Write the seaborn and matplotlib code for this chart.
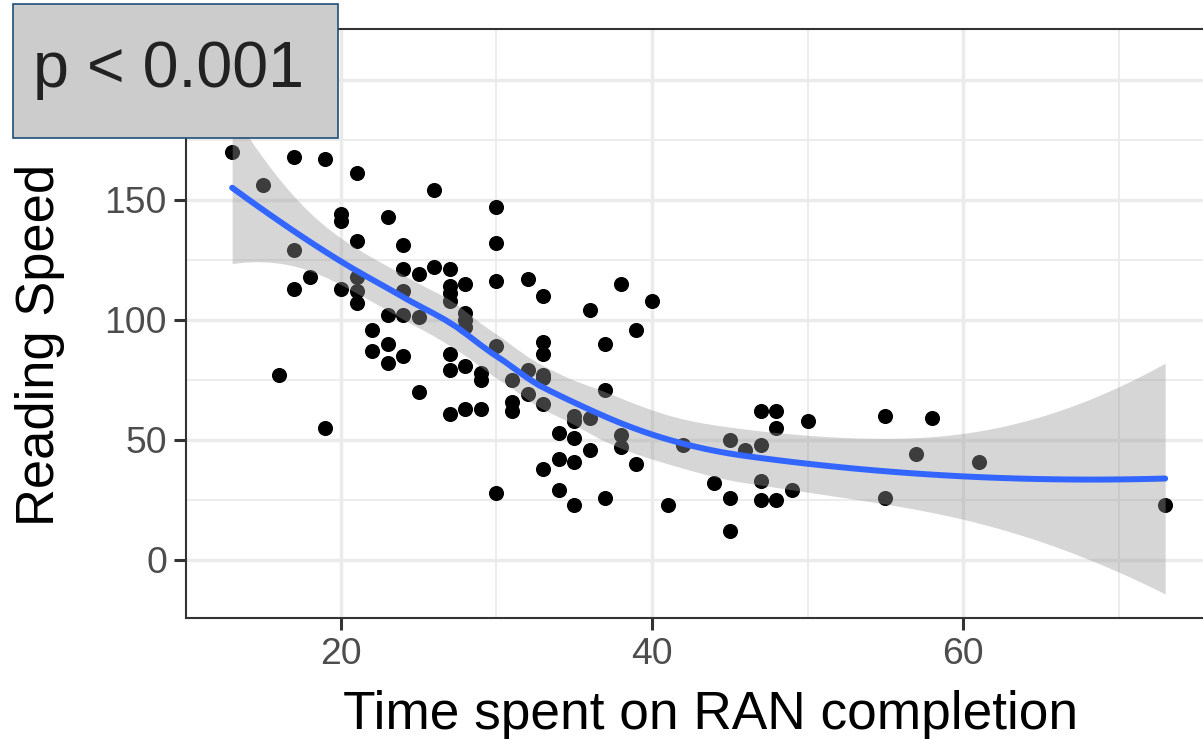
import numpy as np
import pandas as pd
import matplotlib
matplotlib.use("Agg")
import matplotlib.pyplot as plt
from matplotlib.patches import Rectangle
import seaborn as sns

# --- data ---
# the (18, 210) point sits under the p-value box; the y-range of the panel implies it
ran_time = [13, 15, 16, 17, 17, 17, 18, 18, 19, 19,
            20, 20, 20, 21, 21, 21, 21, 21, 22, 22,
            23, 23, 23, 23, 24, 24, 24, 24, 24, 25, 25, 25,
            26, 26, 27, 27, 27, 27, 27, 27, 27,
            28, 28, 28, 28, 28, 28, 29, 29, 29,
            30, 30, 30, 30, 30, 31, 31, 31, 32, 32, 32,
            33, 33, 33, 33, 33, 33, 33, 34, 34, 34,
            35, 35, 35, 35, 35, 36, 36, 36, 37, 37, 37,
            38, 38, 38, 39, 39, 40, 41, 42, 44, 45, 45, 45, 46,
            47, 47, 47, 47, 48, 48, 48, 49, 50, 55, 55, 57, 58, 61, 73]
reading_speed = [170, 156, 77, 168, 129, 113, 210, 118, 167, 55,
                 144, 141, 113, 161, 133, 118, 112, 107, 96, 87,
                 143, 102, 90, 82, 131, 121, 112, 102, 85, 119, 101, 70,
                 154, 122, 121, 114, 111, 108, 86, 79, 61,
                 115, 103, 100, 97, 81, 63, 78, 75, 63,
                 147, 132, 116, 89, 28, 75, 66, 62, 117, 79, 69,
                 110, 91, 86, 77, 76, 65, 38, 53, 42, 29,
                 60, 58, 51, 41, 23, 104, 59, 46, 90, 71, 26,
                 115, 52, 47, 96, 40, 108, 23, 48, 32, 50, 26, 12, 46,
                 62, 48, 33, 25, 62, 55, 25, 29, 58, 60, 26, 44, 59, 41, 23]
x_breaks = [20, 40, 60]
y_breaks = [0, 50, 100, 150, 200]
p_label = "p < 0.001"

df = pd.DataFrame({"time": ran_time, "speed": reading_speed})


# --- loess (span 0.75, degree 2, kd-tree + hermite interpolation) ---
def local_rows(x, x0, q):
    # operator rows for value and slope of the local quadratic at x0
    n = len(x)
    d = np.abs(x - x0)
    h = np.sort(d)[q - 1]
    w = np.clip(1 - (d / h) ** 3, 0, None) ** 3
    X = np.column_stack([np.ones(n), x - x0, (x - x0) ** 2])
    XtW = X.T * w
    sol = np.linalg.solve(XtW @ X, XtW)
    return sol[0], sol[1]


def kd_vertices(x, fc):
    xs = np.sort(x)
    mu = 0.005 * (xs[-1] - xs[0])
    verts = {xs[0] - mu, xs[-1] + mu}
    stack = [(0, len(xs) - 1, xs[0] - mu, xs[-1] + mu)]
    while stack:
        l, u, lo, hi = stack.pop()
        if u - l + 1 <= fc:
            continue
        m = (l + u) // 2
        offset, found = 0, None
        while l <= m + offset < u:
            if xs[m + offset] != xs[m + offset + 1]:
                found = m + offset
                break
            offset = -offset
            if offset >= 0:
                offset += 1
        if found is None:
            continue
        xi = xs[found]
        if xi == lo or xi == hi:
            continue
        verts.add(xi)
        stack.append((l, found, lo, xi))
        stack.append((found + 1, u, xi, hi))
    return np.array(sorted(verts))


def loess_operator(x, x_new, span=0.75, cell=0.2):
    n = len(x)
    q = int(np.floor(n * span))
    fc = int(np.floor(n * span * cell))
    verts = kd_vertices(x, fc)
    rows = [local_rows(x, v, q) for v in verts]
    L = np.zeros((len(x_new), n))
    for k, x0 in enumerate(x_new):
        j = np.clip(np.searchsorted(verts, x0) - 1, 0, len(verts) - 2)
        v0, v1 = verts[j], verts[j + 1]
        hw = v1 - v0
        t = (x0 - v0) / hw
        phi0 = (1 - t) ** 2 * (1 + 2 * t)
        phi1 = t ** 2 * (3 - 2 * t)
        psi0 = t * (1 - t) ** 2
        psi1 = -t ** 2 * (1 - t)
        L[k] = (phi0 * rows[j][0] + phi1 * rows[j + 1][0]
                + (psi0 * rows[j][1] + psi1 * rows[j + 1][1]) * hw)
    return L


def t975(dof):
    z = 1.959963985
    return (z + (z**3 + z) / (4 * dof)
            + (5 * z**5 + 16 * z**3 + 3 * z) / (96 * dof**2)
            + (3 * z**7 + 19 * z**5 + 17 * z**3 - 15 * z) / (384 * dof**3))


x = df["time"].to_numpy(float)
y = df["speed"].to_numpy(float)
grid = np.linspace(x.min(), x.max(), 80)

L_fit = loess_operator(x, x)
resid = y - L_fit @ y
IL = np.eye(len(x)) - L_fit
M = IL.T @ IL
delta1 = np.trace(M)
delta2 = np.trace(M @ M)
sigma = np.sqrt(np.sum(resid**2) / delta1)
dof = delta1**2 / delta2

L_grid = loess_operator(x, grid)
fit = L_grid @ y
se = sigma * np.sqrt(np.sum(L_grid**2, axis=1))
lo = fit - t975(dof) * se
hi = fit + t975(dof) * se
smooth = pd.DataFrame({"time": grid, "fit": fit})

# --- plot ---
sns.set_style("white")
plt.rcParams["font.family"] = ["Liberation Sans", "DejaVu Sans"]

W, H = 1203, 739
fig = plt.figure(figsize=(W / 100, H / 100), dpi=100)
ax = fig.add_axes([185.5 / W, 1 - 618 / H, 1026.3 / W, 589 / H])

sns.scatterplot(data=df, x="time", y="speed", ax=ax, color="black",
                s=118, linewidth=0, zorder=2)
ax.fill_between(grid, lo, hi, color="#999999", alpha=0.4, lw=0, zorder=3)
sns.lineplot(data=smooth, x="time", y="fit", ax=ax, color="#3366FF",
             lw=4.3, zorder=4)

ax.set_xlim(10, 76)
ax.set_ylim(-24.2, 221.2)
ax.set_xticks(x_breaks)
ax.set_yticks(y_breaks)
ax.set_xticks([10, 30, 50, 70], minor=True)
ax.set_yticks([25, 75, 125, 175], minor=True)
ax.set_axisbelow(True)
ax.grid(which="major", color="#EBEBEB", lw=2.5)
ax.grid(which="minor", color="#EBEBEB", lw=1.3)
ax.tick_params(which="major", length=8.4, width=2.2, color="#333333",
               labelsize=26.8, labelcolor="#4D4D4D", pad=5,
               bottom=True, left=True)
ax.tick_params(which="minor", length=0)
for sp in ax.spines.values():
    sp.set_color("#333333")
    sp.set_linewidth(1.5)
ax.set_xlabel("")
ax.set_ylabel("")

fig.text(711 / W, 1 - 729 / H, "Time spent on RAN completion",
         ha="center", va="baseline", fontsize=38.3, color="black")
fig.text(40 / W, 1 - 345 / H, "Reading Speed", rotation=90,
         ha="center", va="center", fontsize=37.8, color="black")

# p-value label box
fig.patches.append(Rectangle((13 / W, 1 - 138 / H), 325 / W, 134 / H,
                             transform=fig.transFigure, facecolor="#CCCCCC",
                             edgecolor="#1F4E79", lw=1.2, zorder=10))
fig.text(33 / W, 1 - 87 / H, p_label, ha="left", va="baseline",
         fontsize=46.5, color="#222222", zorder=11)

fig.savefig("out.png", dpi=100)
